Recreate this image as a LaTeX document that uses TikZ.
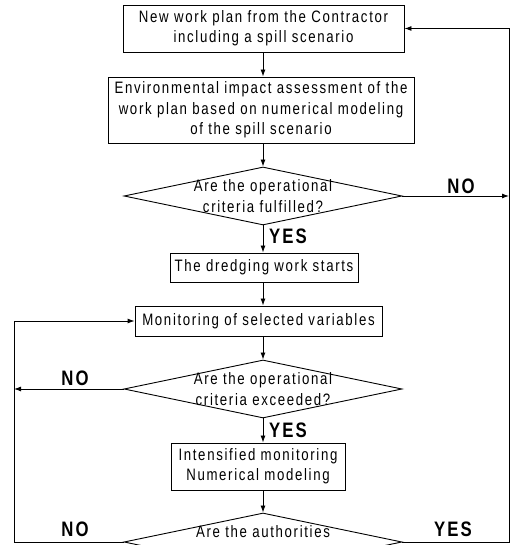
\documentclass[tikz,border=0pt]{standalone}
\usepackage{fontspec}
\setmainfont{Liberation Sans}[FakeStretch=0.8, LetterSpace=10]
\usetikzlibrary{arrows.meta,shapes.geometric}
\newcommand\boxfont{\fontsize{16.6}{20.5}\selectfont}
\newcommand\lblfont{\fontsize{21}{24}\selectfont\bfseries}
\tikzset{
 box/.style={draw, line width=0.9bp, inner sep=0pt, align=center, font=\boxfont},
 dia/.style={draw, diamond, line width=0.9bp, inner sep=0pt, minimum width=278bp, minimum height=58bp},
 txt/.style={align=center, font=\boxfont, inner sep=0pt},
 lbl/.style={font=\lblfont, inner sep=0pt},
 arr/.style={line width=0.9bp, -{Latex[length=7bp,width=5bp]}}
}
\begin{document}
\begin{tikzpicture}[x=1bp,y=1bp]
\useasboundingbox (0,0) rectangle (513,545);
\clip (0,0) rectangle (513,545);
\node[box, minimum width=281bp, minimum height=47bp] (b1) at (263.5,516.5) {New work plan from the Contractor\\including a spill scenario};
\node[box, minimum width=306bp, minimum height=66bp] (b2) at (261,435) {Environmental impact assessment of the\\work plan based on numerical modeling\\of the spill scenario};
\node[dia] (d1) at (263,349) {};
\node[txt] (d1t) at (d1.center) {Are the operational\\criteria fulfilled?};
\node[box, minimum width=188bp, minimum height=29bp] (b3) at (264,277.5) {The dredging work starts};
\node[box, minimum width=247bp, minimum height=30bp] (b4) at (258.5,224) {Monitoring of selected variables};
\node[dia] (d2) at (263,156) {};
\node[txt] (d2t) at (d2.center) {Are the operational\\criteria exceeded?};
\node[box, minimum width=174bp, minimum height=47bp] (b5) at (258,78.5) {Intensified monitoring\\Numerical modeling};
\node[dia] (d3) at (263,3) {};
\node[txt] (d3t) at (263,13) {Are the authorities};
\coordinate (R) at (509,0);
\coordinate (L) at (14,0);
\draw[arr] (b1.south -| d1.north) -- (b2.north -| d1.north);
\draw[arr] (b2.south -| d1.north) -- (d1.north);
\draw[arr] (d1.south) -- (b3.north -| d1.south);
\draw[arr] (b3.south -| d1.south) -- (b4.north -| d1.south);
\draw[arr] (b4.south -| d2.north) -- (d2.north);
\draw[arr] (d2.south) -- (b5.north -| d2.south);
\draw[arr] (b5.south -| d3.north) -- (d3.north);
\draw[arr] (d1.east) -- (d1.east -| R);
\draw[arr] (d3.east) -- (d3.east -| R) -- (b1.east -| R) -- (b1.east);
\draw[arr] (d2.west) -- (d2.west -| L);
\draw[arr] (d3.west) -- (d3.west -| L) -- (b4.west -| L) -- (b4.west);
\node[lbl] (no1) at (461,359) {NO};
\node[lbl] (yes1) at (288,309) {YES};
\node[lbl] (no2) at (75,167) {NO};
\node[lbl] (yes2) at (288,115) {YES};
\node[lbl] (no3) at (75,16) {NO};
\node[lbl] (yes3) at (453,16) {YES};
\end{tikzpicture}
\end{document}
